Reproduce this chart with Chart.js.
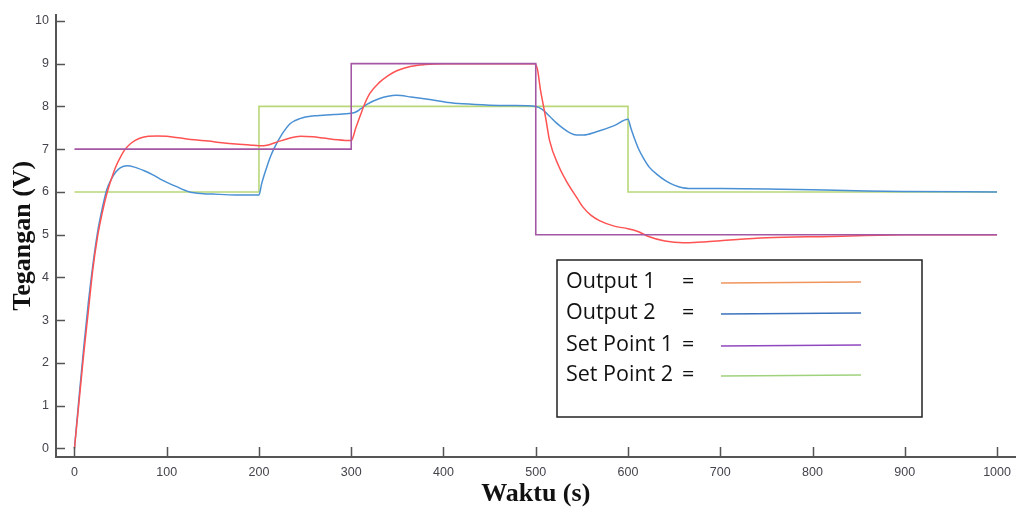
<!DOCTYPE html>
<html>
<head>
<meta charset="utf-8">
<script src="https://cdn.jsdelivr.net/npm/chart.js@4.4.0/dist/chart.umd.min.js"></script>
<style>
    html, body { margin: 0; padding: 0; background: #fff; }
    #wrap { position: relative; width: 1019px; height: 507px; }
</style>
</head>
<body>
<div id="wrap"><canvas id="chart"></canvas></div>
<script>
const xTicks = [0, 100, 200, 300, 400, 500, 600, 700, 800, 900, 1000];
const yTicks = [0, 1, 2, 3, 4, 5, 6, 7, 8, 9, 10];

const seriesNames = ['Output 1', 'Output 2', 'Set Point 1', 'Set Point 2'];

// Output 1 (red)
const out1Time = [0, 5, 10, 15, 20, 25, 30, 35, 40, 45, 50, 55, 62, 70, 80, 90, 100, 115, 130, 145, 160, 175, 190, 200,
    210, 220, 232, 245, 258, 270, 285, 300, 305, 310, 315, 320, 330, 340, 350, 365, 380, 400, 450, 499,
    502, 505, 508, 511, 515, 525, 533, 545, 551, 560, 569, 585, 600, 610, 623, 640, 660, 680, 700, 750, 820, 900, 1000];
const out1Volt = [0, 1.1, 2.2, 3.2, 4.2, 4.95, 5.5, 5.95, 6.3, 6.6, 6.82, 7.0, 7.15, 7.25, 7.3, 7.31, 7.3, 7.26, 7.22, 7.19, 7.15, 7.12, 7.1, 7.08,
    7.1, 7.17, 7.25, 7.3, 7.29, 7.26, 7.22, 7.2, 7.5, 7.8, 8.08, 8.3, 8.55, 8.72, 8.84, 8.94, 8.98, 9.0, 9.0, 9.0,
    8.85, 8.4, 8.05, 7.7, 7.2, 6.6, 6.26, 5.85, 5.65, 5.45, 5.33, 5.2, 5.14, 5.08, 4.95, 4.85, 4.81, 4.83, 4.86, 4.93, 4.96, 5.0, 5.0];

// Output 2 (blue)
const out2Time = [0, 5, 10, 15, 20, 25, 30, 35, 40, 45, 50, 57, 65, 75, 85, 93, 110, 125, 140, 150, 175, 200,
    203, 208, 212, 216, 225, 234, 245, 260, 281, 300, 305, 310, 317, 330, 340, 349, 365, 385, 405, 421, 450, 474, 500,
    507, 515, 522, 530, 537, 544, 552, 565, 585, 600, 603, 607, 612, 617, 623, 632, 641, 650, 659, 675, 700, 750, 800, 858, 900, 1000];
const out2Volt = [0, 1.2, 2.35, 3.4, 4.3, 5.05, 5.6, 6.05, 6.3, 6.47, 6.57, 6.61, 6.58, 6.5, 6.4, 6.3, 6.13, 6.0, 5.96, 5.95, 5.93, 5.93,
    6.2, 6.55, 6.8, 7.0, 7.35, 7.6, 7.72, 7.78, 7.81, 7.84, 7.87, 7.94, 8.05, 8.18, 8.24, 8.26, 8.22, 8.16, 8.09, 8.06, 8.03, 8.02, 8.0,
    7.93, 7.77, 7.62, 7.48, 7.38, 7.33, 7.33, 7.4, 7.55, 7.7, 7.5, 7.25, 6.98, 6.78, 6.58, 6.4, 6.26, 6.16, 6.1, 6.08, 6.08, 6.07, 6.05, 6.02, 6.01, 6.0];

// Set points (step changes)
const sp1Time = [0, 300, 500, 1000];
const sp1Volt = [7, 9, 5, 5];
const sp2Time = [0, 200, 600, 1000];
const sp2Volt = [6, 8, 6, 6];

const toPoints = (xs, ys) => xs.map((x, i) => ({ x: x, y: ys[i] }));

const axisColor = '#555555';
const tickFont = { family: '"Liberation Sans Narrow", "Liberation Sans", sans-serif', size: 12.5 };
const tickColor = '#45434c';
const titleFont = { family: '"Liberation Serif", serif', size: 26, weight: 'bold', lineHeight: 1.0 };
const legendLineColors = ['#f0945c', '#3a72bd', '#9048bf', '#9fd27c'];

// inward tick marks drawn from the scales
const innerTicks = {
    id: 'innerTicks',
    afterDraw(chart) {
        const ctx = chart.ctx;
        const area = chart.chartArea;
        const xs = chart.scales.x;
        const ys = chart.scales.y;
        ctx.save();
        ctx.strokeStyle = axisColor;
        ctx.lineWidth = 1.5;
        ctx.beginPath();
        xTicks.forEach(v => {
            const px = Math.round(xs.getPixelForValue(v)) + 0.5;
            ctx.moveTo(px, area.bottom);
            ctx.lineTo(px, area.bottom - 10);
        });
        yTicks.forEach(v => {
            const py = Math.round(ys.getPixelForValue(v)) + 0.5;
            ctx.moveTo(area.left, py);
            ctx.lineTo(area.left + 9, py);
        });
        ctx.stroke();
        ctx.restore();
    }
};

// boxed legend like the original figure
const boxLegend = {
    id: 'boxLegend',
    afterDraw(chart) {
        const ctx = chart.ctx;
        ctx.save();
        ctx.fillStyle = '#ffffff';
        ctx.fillRect(557, 260, 365, 157);
        ctx.strokeStyle = '#222222';
        ctx.lineWidth = 1.5;
        ctx.strokeRect(557, 260, 365, 157);
        ctx.font = '21.5px "Open Sans"';
        ctx.fillStyle = '#111111';
        ctx.textBaseline = 'middle';
        const rowY = [282, 313, 345, 375];
        seriesNames.forEach((name, i) => {
            ctx.fillText(name, 566, rowY[i]);
            ctx.fillText('=', 682, rowY[i]);
            ctx.strokeStyle = legendLineColors[i];
            ctx.lineWidth = 1.6;
            ctx.beginPath();
            ctx.moveTo(721, rowY[i] + 1);
            ctx.lineTo(861, rowY[i]);
            ctx.stroke();
        });
        ctx.restore();
    }
};

new Chart(document.getElementById('chart'), {
    type: 'line',
    data: {
        datasets: [
            {
                label: seriesNames[2],
                data: toPoints(sp1Time, sp1Volt),
                borderColor: '#a457a4',
                borderWidth: 1.6,
                stepped: 'before',
                pointRadius: 0,
                order: 0
            },
            {
                label: seriesNames[0],
                data: toPoints(out1Time, out1Volt),
                borderColor: '#ff5252',
                borderWidth: 1.5,
                cubicInterpolationMode: 'monotone',
                pointRadius: 0,
                order: 1
            },
            {
                label: seriesNames[1],
                data: toPoints(out2Time, out2Volt),
                borderColor: '#4a90d4',
                borderWidth: 1.5,
                cubicInterpolationMode: 'monotone',
                pointRadius: 0,
                order: 2
            },
            {
                label: seriesNames[3],
                data: toPoints(sp2Time, sp2Volt),
                borderColor: '#b8d878',
                borderWidth: 1.6,
                stepped: 'before',
                pointRadius: 0,
                order: 3
            }
        ]
    },
    options: {
        responsive: true,
        maintainAspectRatio: false,
        animation: false,
        layout: { padding: { top: 12, right: 2, left: 0, bottom: 0 } },
        plugins: {
            legend: { display: false },
            tooltip: { enabled: false }
        },
        scales: {
            x: {
                type: 'linear',
                min: -20,
                max: 1020,
                afterBuildTicks: (scale) => { scale.ticks = xTicks.map(v => ({ value: v })); },
                afterFit: (scale) => { scale.height = 50; },
                grid: { display: false, drawTicks: false },
                border: { display: true, color: axisColor, width: 2 },
                ticks: { font: tickFont, color: tickColor, padding: 8, maxRotation: 0, callback: (v) => String(v) },
                title: {
                    display: true,
                    text: 'Waktu (s)',
                    font: titleFont,
                    color: '#111111',
                    padding: { top: 0, bottom: 0 }
                }
            },
            y: {
                type: 'linear',
                min: -0.2,
                max: 10.15,
                afterBuildTicks: (scale) => { scale.ticks = yTicks.map(v => ({ value: v })); },
                afterFit: (scale) => { scale.width = 56; },
                grid: { display: false, drawTicks: false },
                border: { display: true, color: axisColor, width: 2 },
                ticks: { font: tickFont, color: tickColor, padding: 7, callback: (v) => String(v) },
                title: {
                    display: true,
                    text: 'Tegangan (V)',
                    font: titleFont,
                    color: '#111111',
                    padding: { top: 10, bottom: 0 }
                }
            }
        }
    },
    plugins: [innerTicks, boxLegend]
});
</script>
</body>
</html>
